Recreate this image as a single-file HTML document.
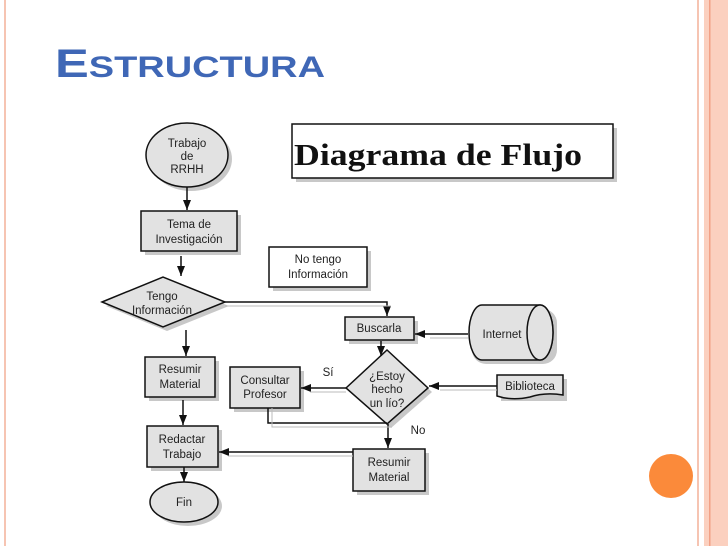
<!DOCTYPE html>
<html><head><meta charset="utf-8"><style>
html,body{margin:0;padding:0;background:#fff;width:728px;height:546px;overflow:hidden}
svg{display:block}
text{font-family:"Liberation Sans",sans-serif;fill:#222}
</style></head><body>
<svg width="728" height="546" viewBox="0 0 728 546" xmlns="http://www.w3.org/2000/svg">
<defs>
<marker id="a" viewBox="0 0 10 10" refX="10" refY="5" markerWidth="10" markerHeight="10" markerUnits="userSpaceOnUse" orient="auto"><path d="M0,1 L10,5 L0,9 z" fill="#111"/></marker>
</defs>
<!-- slide decorations -->
<rect x="4" y="0" width="2" height="546" fill="#f6c4b2"/>
<rect x="697" y="0" width="2" height="546" fill="#f6c4b2"/>
<rect x="704" y="0" width="24" height="546" fill="#fbd0bf"/>
<rect x="709" y="0" width="1.5" height="546" fill="#f2a186"/>
<circle cx="671" cy="476" r="22" fill="#fb8a3a"/>
<text x="55" y="77" style="font-family:'Liberation Sans',sans-serif;font-weight:bold;fill:#3f67b6" font-size="40" textLength="270" lengthAdjust="spacingAndGlyphs">E<tspan font-size="30">STRUCTURA</tspan></text>

<g stroke="#111" stroke-width="1.5">
<!-- shadows -->
<g fill="#c8c8c8" stroke="none">
<ellipse cx="191" cy="159" rx="41" ry="32"/>
<rect x="145" y="215" width="96" height="40"/>
<polygon points="106,306 167,281 229,306 167,331"/>
<rect x="149" y="361" width="70" height="40"/>
<rect x="151" y="430" width="71" height="41"/>
<ellipse cx="188" cy="506" rx="34" ry="20"/>
<rect x="296" y="128" width="321" height="54"/>
<rect x="273" y="251" width="98" height="40"/>
<rect x="349" y="321" width="69" height="23"/>
<rect x="234" y="371" width="70" height="41"/>
<polygon points="350,392 391,354 432,392 391,428"/>
<rect x="357" y="453" width="72" height="42"/>
<rect x="472" y="309" width="85" height="55" rx="14"/>
<rect x="501" y="379" width="66" height="22"/>
</g>
<!-- shapes -->
<ellipse cx="187" cy="155" rx="41" ry="32" fill="#e2e2e2"/>
<rect x="141" y="211" width="96" height="40" fill="#e2e2e2"/>
<polygon points="102,302 163,277 225,302 163,327" fill="#e2e2e2"/>
<rect x="145" y="357" width="70" height="40" fill="#e2e2e2"/>
<rect x="147" y="426" width="71" height="41" fill="#e2e2e2"/>
<ellipse cx="184" cy="502" rx="34" ry="20" fill="#e2e2e2"/>
<rect x="292" y="124" width="321" height="54" fill="#fff"/>
<rect x="269" y="247" width="98" height="40" fill="#fff"/>
<rect x="345" y="317" width="69" height="23" fill="#e2e2e2"/>
<rect x="230" y="367" width="70" height="41" fill="#e2e2e2"/>
<polygon points="346,388 387,350 428,388 387,424" fill="#e2e2e2"/>
<rect x="353" y="449" width="72" height="42" fill="#e2e2e2"/>
<path d="M482,305 L540,305 A13,27.5 0 0 1 540,360 L482,360 A13,27.5 0 0 1 482,305 z" fill="#e2e2e2"/>
<ellipse cx="540" cy="332.5" rx="13" ry="27.5" fill="#e2e2e2"/>
<path d="M497,375 L563,375 L563,395 Q545,392 530,397 Q512,401 497,396 z" fill="#e2e2e2"/>
<!-- connectors -->
<g fill="none">
<line x1="187" y1="187" x2="187" y2="210" marker-end="url(#a)"/>
<line x1="181" y1="256" x2="181" y2="276" marker-end="url(#a)"/>
<polyline points="225,302 387,302 387,316" marker-end="url(#a)"/>
<line x1="186" y1="330" x2="186" y2="356" marker-end="url(#a)"/>
<line x1="183" y1="400" x2="183" y2="425" marker-end="url(#a)"/>
<line x1="184" y1="467" x2="184" y2="482" marker-end="url(#a)"/>
<line x1="468" y1="334" x2="415" y2="334" marker-end="url(#a)"/>
<line x1="381" y1="341" x2="381" y2="356" marker-end="url(#a)"/>
<line x1="346" y1="388" x2="301" y2="388" marker-end="url(#a)"/>
<line x1="497" y1="386" x2="429" y2="386" marker-end="url(#a)"/>
<polyline points="268,408 268,423 387,423"/>
<line x1="388" y1="424" x2="388" y2="448" marker-end="url(#a)"/>
<line x1="353" y1="452" x2="219" y2="452" marker-end="url(#a)"/>
</g>
<g fill="none" stroke="#bbb" stroke-width="1">
<polyline points="225,306 391,306"/>
<line x1="468" y1="338" x2="430" y2="338"/>
<line x1="346" y1="392" x2="310" y2="392"/>
<line x1="497" y1="390" x2="440" y2="390"/>
<polyline points="272,408 272,427 392,427"/>
<line x1="353" y1="456" x2="228" y2="456"/>
</g>
</g>
<!-- labels -->
<g font-size="11.5" text-anchor="middle">
<text x="187" y="147">Trabajo</text><text x="187" y="160">de</text><text x="187" y="173">RRHH</text>
<text x="189" y="228">Tema de</text><text x="189" y="243">Investigación</text>
<text x="162" y="300">Tengo</text><text x="162" y="314">Información</text>
<text x="180" y="373">Resumir</text><text x="180" y="388">Material</text>
<text x="182" y="443">Redactar</text><text x="182" y="458">Trabajo</text>
<text x="184" y="506">Fin</text>
<text x="318" y="263">No tengo</text><text x="318" y="278">Información</text>
<text x="379" y="332">Buscarla</text>
<text x="265" y="384">Consultar</text><text x="265" y="398">Profesor</text>
<text x="387" y="380">¿Estoy</text><text x="387" y="393">hecho</text><text x="387" y="407">un lío?</text>
<text x="389" y="466">Resumir</text><text x="389" y="481">Material</text>
<text x="502" y="338">Internet</text>
<text x="530" y="390">Biblioteca</text>
<text x="328" y="376">Sí</text>
<text x="418" y="434">No</text>
</g>
<text x="294" y="165" style="font-family:'Liberation Serif',serif;font-weight:bold;fill:#111" font-size="31" textLength="288" lengthAdjust="spacingAndGlyphs">Diagrama de Flujo</text>
</svg>
</body></html>
